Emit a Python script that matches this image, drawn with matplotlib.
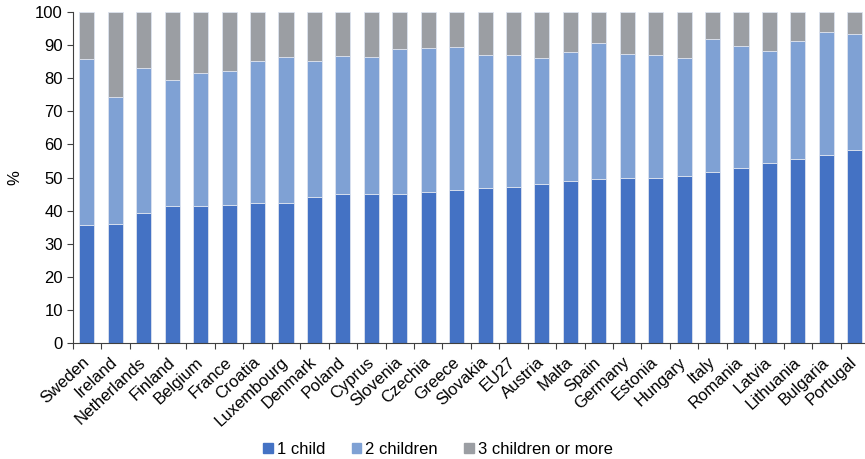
import matplotlib
matplotlib.use("Agg")
import matplotlib.pyplot as plt
import matplotlib.patches as mpatches
import numpy as np

plt.rcParams["font.family"] = ["Liberation Sans", "DejaVu Sans"]

# ── Data: share of families by number of children (%) ─────────────────────────
countries = ["Sweden", "Ireland", "Netherlands", "Finland", "Belgium", "France",
             "Croatia", "Luxembourg", "Denmark", "Poland", "Cyprus", "Slovenia",
             "Czechia", "Greece", "Slovakia", "EU27", "Austria", "Malta", "Spain",
             "Germany", "Estonia", "Hungary", "Italy", "Romania", "Latvia",
             "Lithuania", "Bulgaria", "Portugal"]

one_child = [35.7, 36.1, 39.2, 41.4, 41.4, 41.8, 42.4, 42.4, 44.2, 45.1, 45.1, 45.1,
             45.7, 46.3, 46.8, 47.2, 47.9, 49.0, 49.6, 49.9, 49.9, 50.4, 51.8, 53.0,
             54.5, 55.7, 56.9, 58.4]
two_children = [49.9, 38.3, 43.9, 38.1, 40.2, 40.2, 42.8, 43.9, 40.8, 41.6, 41.2, 43.7,
                43.4, 43.2, 40.2, 39.8, 38.0, 38.7, 41.1, 37.4, 37.1, 35.5, 39.9, 36.8,
                33.6, 35.4, 37.1, 34.8]
three_plus = [14.4, 25.6, 16.9, 20.5, 18.4, 18.0, 14.8, 13.7, 15.0, 13.3, 13.7, 11.2,
              10.9, 10.5, 13.0, 13.0, 14.1, 12.3, 9.3, 12.7, 13.0, 14.1, 8.3, 10.2,
              11.9, 8.9, 6.0, 6.8]

series_labels = ["1 child", "2 children", "3 children or more"]
colors = ["#4472C4", "#7FA1D4", "#9B9EA3"]

# ── Plot ──────────────────────────────────────────────────────────────────────
fig = plt.figure(figsize=(8.65, 4.59), dpi=100)
ax = fig.add_axes([72.7 / 865, 1 - 343.3 / 459, (869 - 72.7) / 865, (343.3 - 11.7) / 459])

x = np.arange(len(countries))
width = 0.53
bottom = np.zeros(len(countries))
for vals, col in zip([one_child, two_children, three_plus], colors):
    ax.bar(x, vals, width, bottom=bottom, color=col,
           edgecolor="#DCE3EF", linewidth=0.6)
    bottom += np.array(vals)

ax.set_xlim(-0.5, len(countries) - 0.5)
ax.set_ylim(0, 100)
ax.set_yticks(range(0, 101, 10))
ax.tick_params(axis="y", labelsize=12, length=4, width=0.8, color="#404040", pad=3)

ax.set_xticks(x)
ax.set_xticklabels(countries, rotation=43, ha="right", va="center",
                   rotation_mode="anchor", fontsize=12)
ax.tick_params(axis="x", which="major", length=0, pad=12)
ax.set_xticks(np.arange(-0.5, len(countries), 1), minor=True)
ax.tick_params(axis="x", which="minor", length=4, width=0.8, color="#404040")

for side in ["top", "right"]:
    ax.spines[side].set_visible(False)
for side in ["left", "bottom"]:
    ax.spines[side].set_color("#404040")
    ax.spines[side].set_linewidth(0.8)

ax.set_ylabel("%", fontsize=12, labelpad=9)

handles = [mpatches.Patch(color=c, label=l) for c, l in zip(colors, series_labels)]
fig.legend(handles=handles, loc="center", bbox_to_anchor=(438 / 865, 1 - 449.5 / 459),
           ncol=3, frameon=False, fontsize=12, handlelength=0.55, handleheight=0.55,
           handletextpad=0.25, columnspacing=1.6)

fig.savefig("out.png", dpi=100)
